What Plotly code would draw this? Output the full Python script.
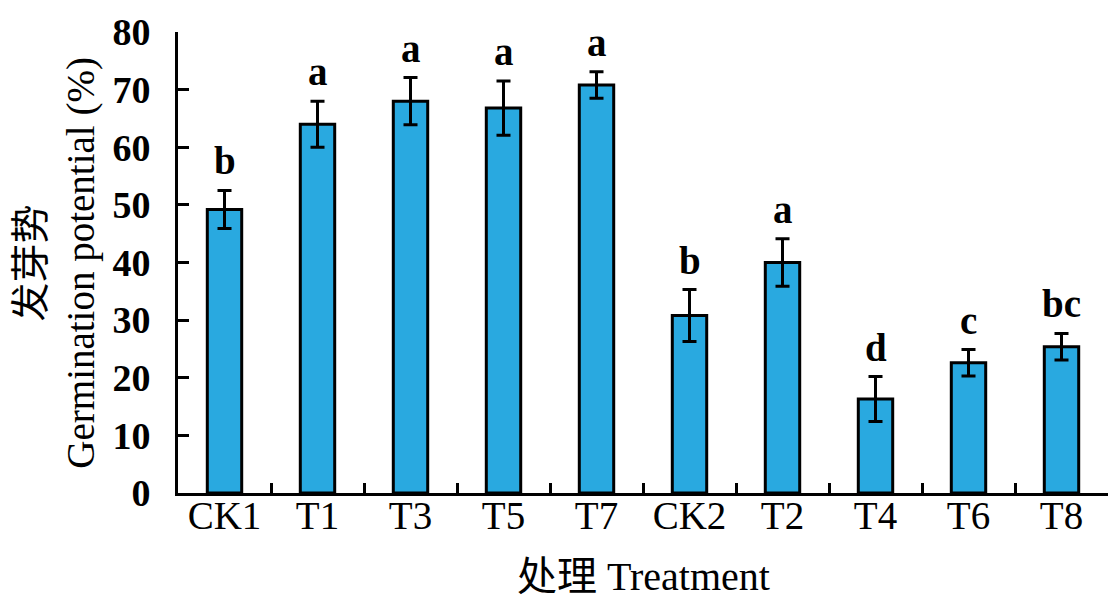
import plotly.graph_objects as go

categories = ["CK1", "T1", "T3", "T5", "T7", "CK2", "T2", "T4", "T6", "T8"]
values = [49.2, 64.0, 68.0, 66.8, 70.8, 30.8, 40.0, 16.3, 22.6, 25.4]
errors = [3.3, 4.0, 4.1, 4.7, 2.3, 4.5, 4.1, 3.9, 2.3, 2.3]
letters = ["b", "a", "a", "a", "a", "b", "a", "d", "c", "bc"]

FONT = "Liberation Serif, Times New Roman, Noto Sans CJK SC, serif"

fig = go.Figure()
fig.add_trace(go.Bar(
    x=categories, y=values, width=0.37,
    marker=dict(color="#29A9E0", line=dict(color="black", width=3)),
    error_y=dict(type="data", array=errors, visible=True, color="black",
                 thickness=3, width=7),
    showlegend=False,
))

for c, v, e, t in zip(categories, values, errors, letters):
    fig.add_annotation(x=c, y=v + e, text=t, showarrow=False, yanchor="bottom",
                       yshift=6, font=dict(family=FONT, size=39, color="black", weight="bold"))

fig.add_annotation(xref="paper", yref="paper", x=-0.131, y=0.5, xanchor="center", yanchor="middle",
                   text="发芽势<br>Germination potential (%)", textangle=-90, showarrow=False,
                   font=dict(family=FONT, size=39, color="black"))
fig.add_annotation(xref="paper", yref="paper", x=0.5, y=-0.182, xanchor="center", yanchor="middle",
                   text="处理 Treatment", showarrow=False,
                   font=dict(family=FONT, size=40, color="black"))

# page body has an 8px default margin, so the figure is sized to the remaining viewport
fig.update_layout(
    width=1109, height=603,
    margin=dict(l=170, r=9, t=24, b=118),
    plot_bgcolor="white", paper_bgcolor="white",
    font=dict(family=FONT, color="black"),
    xaxis=dict(range=[-0.5, 9.5], showline=True, linecolor="black", linewidth=3,
               ticks="inside", tickson="boundaries", ticklen=10, tickwidth=3, tickcolor="black",
               tickfont=dict(family=FONT, size=39, color="black"), showgrid=False,
               ticklabelstandoff=-14, automargin=False),
    yaxis=dict(range=[0, 80], dtick=10, showline=True, linecolor="black", linewidth=3,
               ticks="inside", ticklen=11, tickwidth=3, tickcolor="black",
               tickfont=dict(family=FONT, size=38, color="black", weight="bold"),
               showgrid=False, zeroline=False, ticklabelstandoff=17, automargin=False),
)

fig.write_html("out.html")
